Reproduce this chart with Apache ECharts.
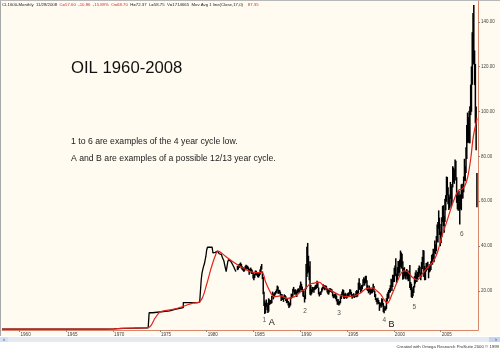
<!DOCTYPE html>
<html><head><meta charset="utf-8">
<script src="https://cdn.jsdelivr.net/npm/echarts@6/dist/echarts.min.js"></script>
<style>html,body{margin:0;padding:0;background:#fffbf0}#c{width:500px;height:350px}</style>
</head><body><div id="c"></div>
<script>
// ---- data ----
const yearTicks = [1960,1965,1970,1975,1980,1985,1990,1995,2000,2005];
const priceTicks = [20,40,60,80,100,120,140];

// early posted-price steps (year, price)
const stepYears  = [1958.13, 1969.1, 1970.1, 1971.1, 1973.75, 1973.85, 1974.2, 1976.05, 1976.6, 1977.5];
const stepPrices = [2.97,    3.1,    3.35,   3.56,   4.3,     10.3,    11.1,   11.8,    12.6,   14.85];

// monthly closes Jan 1979 .. Mar 1983
const monthlyStart = 1979.0;
const monthlyCloses = [
  14.85,15.0,15.0,15.0,20.0,25.0,28.0,29.5,31.0,32.0,33.8,35.5,
  38.3,39.5,39.5,39.5,39.5,39.5,39.5,39.3,37.0,36.8,37.2,37.5,
  37.5,37.8,37.3,37.0,36.6,36.8,36.2,35.8,35.0,34.6,33.5,31.8,
  31.0,28.6,28.3,33.0,34.0,33.8,33.2,33.0,32.4,31.9,31.8,30.6,
  29.8,28.9,29.2
];

// monthly bars Apr 1983 .. Nov 2008 (low / high)
const barStart = 1983.25;
const barLow = [
  29.5,29.8,30.5,30.8,31.2,30.2,29.7,29.2,28.8,
  29.0,29.8,30.4,30.0,30.0,29.5,27.5,28.5,29.0,27.8,27.8,25.8,
  25.0,26.0,27.2,27.4,27.0,26.4,26.2,26.8,27.5,28.5,29.8,25.5,
  18.8,13.5,10.0,10.4,13.2,11.8,10.4,11.0,14.0,14.3,14.5,14.8,
  17.5,16.5,17.4,18.2,18.8,19.4,20.4,19.0,19.0,19.2,18.1,15.8,
  16.4,16.2,15.4,16.6,17.0,15.8,14.8,15.0,13.8,12.6,13.2,13.8,
  16.8,17.2,17.8,19.8,18.6,18.8,18.6,17.6,19.2,19.6,19.4,19.8,
  20.8,20.6,19.8,17.8,17.6,15.1,16.6,21.0,26.5,28.0,28.5,25.0,
  18.5,18.2,18.8,19.6,20.6,19.4,20.6,20.9,21.2,22.6,21.6,18.7,
  17.8,18.4,18.6,19.6,20.4,21.4,21.0,20.6,21.2,20.8,19.6,18.8,
  18.6,19.6,19.8,19.8,19.4,17.8,17.0,17.4,17.0,16.6,15.6,14.1,
  14.2,13.8,14.2,14.8,16.7,17.8,18.6,16.9,16.7,17.0,17.4,16.8,
  17.3,17.8,17.8,19.0,18.6,17.6,16.8,17.2,17.6,17.1,17.6,18.4,
  17.4,17.8,19.2,20.8,20.8,19.4,20.2,21.0,22.2,23.8,22.6,23.6,
  24.0,20.6,20.2,19.2,19.8,18.6,19.0,19.4,19.2,20.8,19.8,17.6,
  16.2,15.4,14.2,15.0,14.4,11.4,13.4,12.8,13.2,13.8,10.8,10.35,
  11.6,11.5,12.2,15.5,17.4,16.8,19.4,19.6,21.8,20.2,22.0,24.2,
  24.2,27.4,26.8,23.9,25.0,28.2,26.8,28.4,31.0,30.2,32.2,25.2,
  25.6,26.8,25.8,25.4,26.8,25.4,24.6,25.8,21.6,20.6,17.5,17.1,
  17.9,19.3,21.8,23.5,24.3,24.2,25.6,26.4,28.0,26.6,25.0,26.6,
  30.0,32.0,26.5,25.0,25.1,28.9,29.6,30.4,25.9,28.5,28.9,29.6,
  32.0,32.0,34.5,33.0,37.2,36.6,38.0,42.2,41.8,48.0,45.2,40.2,
  41.5,44.2,51.0,49.2,46.2,51.0,56.2,60.0,62.8,58.9,56.3,57.0,
  61.3,57.6,59.6,66.4,68.7,68.0,71.0,69.5,59.5,56.6,56.0,60.2,
  49.9,56.8,56.2,61.4,61.4,64.2,69.4,69.1,72.8,79.1,86.2,86.6,
  86.1,86.1,98.6,100.1,112.1,122.3,121.2,112.0,95.0,83.0,57.6
];
const barHigh = [
  31.0,30.8,31.8,32.0,32.5,31.8,30.8,30.5,29.9,
  30.2,31.0,31.5,31.2,31.0,30.4,29.5,29.8,30.2,29.6,29.0,28.2,
  27.0,27.5,28.9,28.8,28.2,27.6,27.6,28.2,29.5,30.8,31.8,28.5,
  26.0,19.5,15.5,14.5,16.0,14.5,13.2,16.5,16.0,15.8,15.8,17.5,
  19.5,18.5,19.0,19.2,19.8,20.5,22.2,21.8,20.2,20.3,19.5,18.4,
  18.4,17.6,16.8,18.3,18.0,17.4,16.2,16.4,15.3,14.6,14.6,17.0,
  18.6,18.4,20.8,21.6,20.4,20.6,20.2,19.6,20.6,21.0,20.4,22.2,
  24.0,23.0,21.8,20.6,19.8,17.8,20.8,31.8,39.5,41.2,35.5,30.8,
  33.0,22.5,20.6,21.6,21.6,21.0,21.8,22.5,22.6,24.4,23.6,21.3,
  19.2,19.4,19.7,21.0,21.6,22.8,22.4,21.8,22.3,22.0,21.0,19.8,
  20.4,21.0,21.0,20.8,20.6,19.6,18.2,18.6,18.4,18.8,17.8,16.0,
  16.2,14.9,15.4,17.4,18.4,19.6,20.6,20.2,18.4,19.0,18.6,17.6,
  18.8,19.0,19.2,20.6,20.4,19.4,18.0,18.4,18.8,18.0,18.4,19.8,
  20.2,19.8,23.5,25.5,23.2,21.8,22.4,22.6,25.0,25.9,25.3,26.5,
  26.6,24.6,22.4,21.2,22.2,21.0,20.6,20.6,21.2,23.0,22.0,19.8,
  18.4,16.6,16.2,16.8,15.8,14.8,14.6,14.2,16.6,16.2,14.4,12.2,
  13.2,12.8,16.6,18.6,19.5,20.2,21.0,22.4,25.2,24.7,27.0,27.0,
  30.1,31.2,34.4,27.5,30.4,33.2,32.8,33.8,37.8,37.0,36.4,33.0,
  30.0,30.4,28.8,28.4,29.6,29.0,27.6,28.8,31.4,23.8,23.0,20.5,
  21.5,22.0,26.4,28.0,29.0,27.2,28.3,30.0,31.2,30.6,28.0,32.7,
  35.0,38.1,37.8,31.0,30.0,32.3,32.4,32.8,29.9,31.6,31.7,33.0,
  35.8,36.4,38.6,38.2,42.3,40.6,44.3,49.4,50.5,55.7,52.5,46.2,
  49.6,52.6,57.7,58.0,53.3,60.9,62.5,70.8,70.6,66.0,62.8,61.8,
  68.4,66.5,67.5,75.4,74.8,74.0,78.4,77.8,70.5,64.0,62.4,64.4,
  62.4,62.9,67.3,67.6,66.1,70.8,78.7,75.4,83.9,93.8,99.3,97.3,
  100.1,102.1,111.8,119.9,135.1,143.7,147.3,127.0,121.0,102.0,72.4
];

// 17-month moving average (red), sampled
const maYears  = [1958.13,1969.5,1970.8,1972.3,1973.8,1974.5,1975.05,1976.5,1977.6,1978.5,1979.2,1979.6,1980.0,1980.5,1980.9,1981.2,1982.0,1983.0,1984.0,1985.0,1985.9,1986.3,1986.8,1987.2,1987.9,1988.6,1989.4,1990.0,1990.55,1991.0,1991.5,1992.0,1992.6,1993.2,1994.3,1995.0,1995.8,1996.4,1997.1,1997.7,1998.2,1998.6,1998.9,1999.3,1999.8,2000.4,2001.05,2001.4,2002.0,2002.5,2003.1,2003.7,2004.1,2004.6,2005.1,2005.7,2006.2,2006.6,2006.95,2007.3,2007.6,2007.9,2008.2,2008.5,2008.9];
const maValues = [2.97,  3.05,  3.3,   3.5,   3.8,   8.0,   10.7,   11.9,  13.3,  14.6,  15.0,  17.5,  23.0,  30.5,  35.5,  37.8,  35.5,  32.5,  30.0,  28.3,  28.2,  24.0,  19.5,  17.5,  17.8,  16.7,  17.5,  19.5,  21.0,   23.0,  23.5,  24.0,  21.8,  20.4,  18.0,  17.5,  17.9,  19.0,  21.2,  21.4,  20.0,  18.5,  16.5,  14.6,  18.5,  24.5,  29.0,   28.8,  26.0,  24.9,  28.0,  31.0,  32.5,  36.5,  44.0,  51.5,  58.0,  62.5,  65.0,   65.5,  67.0,  71.0,  78.5,  89.0,  97.0];

// ---- build series data ----
const earlyData = stepYears.map((y,i)=>[y, stepPrices[i]])
  .concat(monthlyCloses.map((v,i)=>[monthlyStart + i/12, v]));
const barData = barLow.map((lo,i)=>[barStart + i/12 + 1/24, lo, barHigh[i]]);
const maData = maYears.map((y,i)=>[y, maValues[i]]);

const FF = '"Liberation Sans", Arial, sans-serif';
const axisRed = '#d9866f';

function txt(x, y, s, size, color, align, weight){
  return {type:'text', x:x, y:y, z:50, style:{text:s, fill:color||'#000', font:(weight||'')+' '+size+'px '+FF, align:align||'left', verticalAlign:'middle'}};
}

const headerText = '{b|CL1600-Monthly}  {b|11/28/2008}  {r|C=57.60  -10.86  -15.89%  O=68.70}  {b|H=72.37  L=58.75  V=1714665  Mov Avg 1 line(Close,17,0)}    {r|87.35}';
const header = [{
  type:'text', x:2, y:4.8, z:50,
  style:{text:headerText, font:'4.3px '+FF, fill:'#222', verticalAlign:'middle',
    rich:{b:{fill:'#222', fontSize:4.3, fontFamily:FF}, r:{fill:'#d03030', fontSize:4.3, fontFamily:FF}}}
}];

const notes = [
  txt(71,68,'OIL 1960-2008',16.7,'#111'),
  txt(71,141.7,'1 to 6 are examples of the 4 year cycle low.',8.7,'#222'),
  txt(71,159,'A and B are examples of a possible 12/13 year cycle.',8.7,'#222'),
  txt(264.3,320,'1',6.5,'#555','center'),
  txt(271.7,322.7,'A',9,'#111','center'),
  txt(305,311.7,'2',6.5,'#555','center'),
  txt(339,313.3,'3',6.5,'#555','center'),
  txt(384.3,320,'4',6.5,'#555','center'),
  txt(391.5,324.3,'B',9,'#111','center'),
  txt(414.3,307.3,'5',6.5,'#555','center'),
  txt(461.8,234.3,'6',6.5,'#555','center')
];

const chrome = [
  {type:'rect', shape:{x:0,y:336,width:500,height:14}, style:{fill:'#ffffff'}, z:-10},
  {type:'rect', shape:{x:0,y:337,width:500,height:5}, style:{fill:'#e6e9ee'}, z:40},
  {type:'rect', shape:{x:0,y:337,width:8,height:5}, style:{fill:'#d6e0f0'}, z:41},
  {type:'rect', shape:{x:489,y:337,width:11,height:5}, style:{fill:'#c4d3ee'}, z:41},
  txt(4,339.5,'‹',6,'#3060b0','center','bold'),
  txt(496,339.5,'›',6,'#3060b0','center','bold'),
  txt(499,346.5,'Created with Omega Research ProSuite 2000 © 1999',4.3,'#333','right'),
  {type:'line', shape:{x1:0.5,y1:0,x2:0.5,y2:336}, style:{stroke:'#a8a8a8',lineWidth:1}, z:40},
  {type:'line', shape:{x1:0,y1:0.5,x2:500,y2:0.5}, style:{stroke:'#b8b8b8',lineWidth:1}, z:40}
];

const chart = echarts.init(document.getElementById('c'), null, {renderer:'canvas'});
chart.setOption({
  animation:false,
  backgroundColor:'#fffbf0',
  grid:{left:2, right:22, top:0, bottom:20, containLabel:false, outerBoundsMode:'none'},
  xAxis:{
    type:'value', min:1958.13, max:2008.99,
    axisLine:{show:true, onZero:false, lineStyle:{color:axisRed, width:1}},
    axisTick:{show:true, customValues:yearTicks, length:2, lineStyle:{color:'#888'}},
    axisLabel:{customValues:yearTicks, formatter:v=>String(Math.round(v)), align:'left', fontSize:4.6, color:'#444', margin:2, fontFamily:FF, padding:[0,0,0,1]},
    splitLine:{show:false}
  },
  yAxis:{
    type:'value', position:'right', min:2.62, max:149.7,
    axisLine:{show:true, onZero:false, lineStyle:{color:axisRed, width:1}},
    axisTick:{show:true, customValues:priceTicks, length:2, lineStyle:{color:'#888'}},
    axisLabel:{customValues:priceTicks, formatter:v=>v.toFixed(2), fontSize:4.5, color:'#444', margin:3, fontFamily:FF},
    splitLine:{show:false}
  },
  series:[
    {type:'line', data:earlyData, step:'end', showSymbol:false, symbol:'none',
     lineStyle:{color:'#000', width:1.3}, z:3},
    {type:'custom', data:barData, encode:{x:0, y:[1,2]}, z:3,
     renderItem:function(params, api){
       const t = api.value(0), lo = api.value(1), hi = api.value(2);
       const a = api.coord([t, lo]), b = api.coord([t, hi]);
       return {type:'line', shape:{x1:a[0], y1:a[1]+0.5, x2:b[0], y2:b[1]-0.5}, style:{stroke:'#000', lineWidth:1.5}};
     }},
    {type:'line', data:maData, smooth:0.35, showSymbol:false, symbol:'none',
     lineStyle:{color:'#e2231a', width:1.2}, z:5}
  ],
  graphic:{elements: chrome.concat(header, notes)}
});
</script></body></html>
